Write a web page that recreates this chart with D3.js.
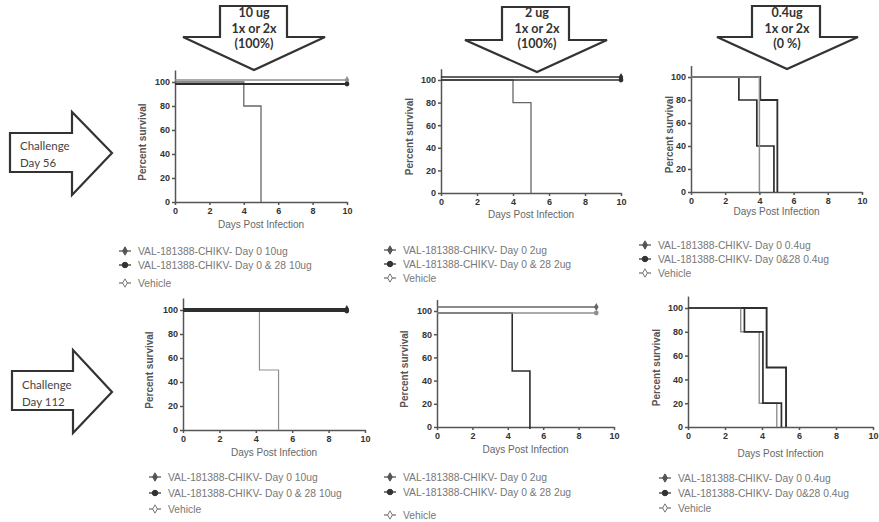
<!DOCTYPE html>
<html>
<head>
<meta charset="utf-8">
<script src="https://cdn.jsdelivr.net/npm/d3@7"></script>
<style>
  body { margin: 0; background: #fff; }
</style>
</head>
<body>
<svg id="fig" width="879" height="522"></svg>
<script>
const xTicks = [0, 2, 4, 6, 8, 10];
const yTicks = [0, 20, 40, 60, 80, 100];

// Kaplan-Meier steps: [day, percent surviving from that day on]
const d56_10ug_day0 = [[0, 100], [10, 100]];
const d56_10ug_day028 = [[0, 100], [10, 100]];
const d56_10ug_vehicle = [[0, 100], [4, 80], [5, 0]];

const d56_2ug_day0 = [[0, 100], [10, 100]];
const d56_2ug_day028 = [[0, 100], [10, 100]];
const d56_2ug_vehicle = [[0, 100], [4, 80], [5, 0]];

const d56_04ug_day0 = [[0, 100], [2.8, 80], [3.85, 40], [4.85, 0]];
const d56_04ug_day028 = [[0, 100], [4, 0]];
const d56_04ug_vehicle = [[0, 100], [4.05, 80], [5.05, 0]];

const d112_10ug_day0 = [[0, 100], [9, 100]];
const d112_10ug_day028 = [[0, 100], [9, 100]];
const d112_10ug_vehicle = [[0, 100], [4.2, 50], [5.25, 0]];

const d112_2ug_day0 = [[0, 100], [9, 100]];
const d112_2ug_day028 = [[0, 100], [9, 100]];
const d112_2ug_vehicle = [[0, 100], [4.25, 50], [5.25, 0]];

const d112_04ug_day0 = [[0, 100], [2.85, 80], [3.85, 20], [4.8, 0]];
const d112_04ug_day028 = [[0, 100], [3.05, 80], [4.05, 20], [5.05, 0]];
const d112_04ug_vehicle = [[0, 100], [4.25, 50], [5.3, 0]];

const legend56_10 = ["VAL-181388-CHIKV- Day 0 10ug", "VAL-181388-CHIKV- Day 0 & 28 10ug", "Vehicle"];
const legend56_2 = ["VAL-181388-CHIKV- Day 0 2ug", "VAL-181388-CHIKV- Day 0 & 28  2ug", "Vehicle"];
const legend56_04 = ["VAL-181388-CHIKV- Day 0 0.4ug", "VAL-181388-CHIKV- Day 0&28 0.4ug", "Vehicle"];
const legend112_10 = ["VAL-181388-CHIKV- Day 0 10ug", "VAL-181388-CHIKV-  Day 0 & 28 10ug", "Vehicle"];
const legend112_2 = ["VAL-181388-CHIKV-  Day 0 2ug", "VAL-181388-CHIKV-  Day 0 & 28 2ug", "Vehicle"];
const legend112_04 = ["VAL-181388-CHIKV-  Day 0 0.4ug", "VAL-181388-CHIKV-  Day 0&28 0.4ug", "Vehicle"];

const doseLabels = [["10 ug", "1x or 2x", "(100%)"], ["2 ug", "1x or 2x", "(100%)"], ["0.4ug", "1x or 2x", "(0 %)"]];
const challengeLabels = [["Challenge", "Day 56"], ["Challenge", "Day 112"]];

// series look: Day 0, Day 0&28, Vehicle
const dark = "#2e2e2e", mid = "#666", light = "#8f8f8f";
const symbols = [d3.symbolDiamond, d3.symbolCircle, d3.symbolDiamond];
const legendColors = ["#555", "#333", "#777"];
const font = "'Liberation Sans', Arial, sans-serif";

let svg = d3.select("#fig");

let panels = [
  { x0: 175, x10: 347, y0: 202, y100: 82, xTitle: 228, yTitle: 146,
    series: [d56_10ug_day0, d56_10ug_day028, d56_10ug_vehicle], dy: [-2, 2, 0],
    colors: [light, dark, mid], widths: [1.6, 2, 1.3],
    names: legend56_10, lx: 125, ly: [251, 265, 283] },
  { x0: 441, x10: 621, y0: 193, y100: 80, xTitle: 218, yTitle: 413,
    series: [d56_2ug_day0, d56_2ug_day028, d56_2ug_vehicle], dy: [-3, 0, 0],
    colors: [dark, dark, mid], widths: [1.7, 1.7, 1.3],
    names: legend56_2, lx: 390, ly: [250, 264, 278] },
  { x0: 691, x10: 862, y0: 192, y100: 77, xTitle: 215, yTitle: 673,
    series: [d56_04ug_day0, d56_04ug_day028, d56_04ug_vehicle], dy: [0, 0, 0],
    colors: [dark, light, dark], widths: [1.7, 1.5, 1.8],
    names: legend56_04, lx: 645, ly: [245, 259, 273] },
  { x0: 183, x10: 365, y0: 430, y100: 310, xTitle: 456, yTitle: 153,
    series: [d112_10ug_day0, d112_10ug_day028, d112_10ug_vehicle], dy: [-1, 1, 0],
    colors: [dark, dark, light], widths: [1.8, 1.8, 1.2],
    names: legend112_10, lx: 155, ly: [477, 493, 509] },
  { x0: 437, x10: 614, y0: 427, y100: 311, xTitle: 453, yTitle: 408,
    series: [d112_2ug_day0, d112_2ug_day028, d112_2ug_vehicle], dy: [-4, 2, 2],
    colors: [mid, light, dark], widths: [1.6, 1.5, 1.6],
    names: legend112_2, lx: 390, ly: [477, 492, 515] },
  { x0: 688, x10: 873, y0: 427, y100: 308, xTitle: 457, yTitle: 660,
    series: [d112_04ug_day0, d112_04ug_day028, d112_04ug_vehicle], dy: [0, 0, 0],
    colors: [light, dark, dark], widths: [1.4, 1.7, 1.9],
    names: legend112_04, lx: 665, ly: [478, 493, 508] }
];

let drawPanel = (p) => {
  let x = d3.scaleLinear().domain([0, 10]).range([p.x0, p.x10]);
  let top = p.y100 - (p.y0 - p.y100) * 0.1;
  let y = d3.scaleLinear().domain([0, 110]).range([p.y0, top]);

  let g = svg.append("g").attr("class", "panel");

  let yAxis = g.append("g")
    .attr("transform", `translate(${p.x0}, 0)`)
    .call(d3.axisLeft(y).tickValues(yTicks).tickSize(3).tickSizeOuter(0));
  let xAxis = g.append("g")
    .attr("transform", `translate(0, ${p.y0})`)
    .call(d3.axisBottom(x).tickValues(xTicks).tickSize(3).tickSizeOuter(0));

  [xAxis, yAxis].forEach(a => {
    a.selectAll("path, line").attr("stroke", "#555").attr("stroke-width", 1.5);
    a.selectAll("text")
      .attr("font-family", font)
      .attr("font-size", 9)
      .attr("font-weight", 700)
      .attr("fill", "#333");
  });
  yAxis.selectAll("text").attr("x", -5);
  xAxis.selectAll("text").attr("y", 6);

  g.append("text")
    .attr("x", (p.x0 + p.x10) / 2)
    .attr("y", p.xTitle)
    .attr("text-anchor", "middle")
    .attr("font-family", font)
    .attr("font-size", 10)
    .attr("fill", "#666")
    .text("Days Post Infection");

  g.append("text")
    .attr("transform", `translate(${p.yTitle}, ${(p.y0 + p.y100) / 2}) rotate(-90)`)
    .attr("text-anchor", "middle")
    .attr("font-family", font)
    .attr("font-size", 10)
    .attr("font-weight", 700)
    .attr("fill", "#555")
    .text("Percent survival");

  let line = d3.line()
    .x(d => x(d[0]))
    .y(d => y(d[1]))
    .curve(d3.curveStepAfter);

  // vehicle first so the vaccine groups sit on top
  [2, 0, 1].forEach(i => {
    let s = p.series[i];
    g.append("path")
      .datum(s)
      .attr("transform", `translate(0, ${p.dy[i]})`)
      .attr("fill", "none")
      .attr("stroke", p.colors[i])
      .attr("stroke-width", p.widths[i])
      .attr("d", line);

    let last = s[s.length - 1];
    if (last[1] > 0) {
      g.append("path")
        .attr("transform", `translate(${x(last[0])}, ${y(last[1]) + p.dy[i]})`)
        .attr("d", d3.symbol().type(symbols[i]).size(18))
        .attr("fill", p.colors[i]);
    }
  });

  let legend = g.selectAll(".legend-row")
    .data(p.names)
    .enter()
    .append("g")
    .attr("class", "legend-row")
    .attr("transform", (d, i) => `translate(${p.lx}, ${p.ly[i]})`);

  legend.append("line")
    .attr("x1", -6).attr("x2", 6)
    .attr("stroke", (d, i) => legendColors[i])
    .attr("stroke-width", 1.3);

  legend.append("path")
    .attr("d", (d, i) => d3.symbol().type(symbols[i]).size(i === 1 ? 24 : 20)())
    .attr("fill", (d, i) => i === 2 ? "#fff" : legendColors[i])
    .attr("stroke", (d, i) => legendColors[i])
    .attr("stroke-width", 1);

  legend.append("text")
    .attr("x", 13)
    .attr("dy", "0.35em")
    .attr("font-family", font)
    .attr("font-size", 10.3)
    .attr("fill", "#777")
    .text(d => d);
};

panels.forEach(drawPanel);

// block arrows
let downArrows = [
  { cx: 254, stemL: 220, stemR: 287, top: 6, wing: 37, wl: 183, wr: 325, tip: 70 },
  { cx: 537, stemL: 502, stemR: 569, top: 7, wing: 40, wl: 465, wr: 607, tip: 72 },
  { cx: 787, stemL: 752, stemR: 820, top: 6, wing: 37, wl: 717, wr: 858, tip: 69 }
];

downArrows.forEach((a, i) => {
  svg.append("path")
    .attr("d", `M${a.stemL},${a.top} L${a.stemR},${a.top} L${a.stemR},${a.wing} L${a.wr},${a.wing} ` +
      `L${a.cx},${a.tip} L${a.wl},${a.wing} L${a.stemL},${a.wing} Z`)
    .attr("fill", "#fff")
    .attr("stroke", "#333")
    .attr("stroke-width", 2.2)
    .attr("stroke-linejoin", "miter");

  svg.append("g")
    .selectAll("text")
    .data(doseLabels[i])
    .enter()
    .append("text")
    .attr("x", a.cx)
    .attr("y", (d, j) => 17 + j * 15.5)
    .attr("text-anchor", "middle")
    .attr("font-family", "Lato, sans-serif")
    .attr("font-size", 12.5)
    .attr("font-weight", 700)
    .attr("fill", "#333")
    .text(d => d);
});

let rightArrows = [
  { left: 10, stemT: 133, stemB: 172, head: 72, headT: 112, headB: 195, tip: 112, mid: 153, ty: 150 },
  { left: 12, stemT: 371, stemB: 410, head: 73, headT: 350, headB: 433, tip: 112, mid: 392, ty: 389 }
];

rightArrows.forEach((a, i) => {
  svg.append("path")
    .attr("d", `M${a.left},${a.stemT} L${a.head},${a.stemT} L${a.head},${a.headT} L${a.tip},${a.mid} ` +
      `L${a.head},${a.headB} L${a.head},${a.stemB} L${a.left},${a.stemB} Z`)
    .attr("fill", "#fff")
    .attr("stroke", "#333")
    .attr("stroke-width", 2.2);

  svg.append("g")
    .selectAll("text")
    .data(challengeLabels[i])
    .enter()
    .append("text")
    .attr("x", a.left + 10)
    .attr("y", (d, j) => a.ty + j * 17)
    .attr("font-family", "Lato, sans-serif")
    .attr("font-size", 11.5)
    .attr("fill", "#444")
    .text(d => d);
});
</script>
</body>
</html>
